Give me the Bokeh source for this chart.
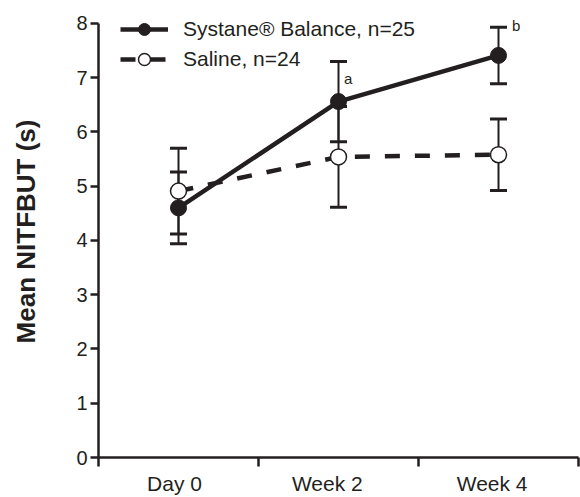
from bokeh.plotting import figure
from bokeh.models import (ColumnDataSource, Whisker, TeeHead, FixedTicker, Range1d,
                          Legend, LegendItem)
from bokeh.core.properties import value
from bokeh.embed import file_html
from bokeh.resources import INLINE
import numpy as np

# ---- data ----
categories = ["Day 0", "Week 2", "Week 4"]
systane_mean = [4.60, 6.56, 7.41]
systane_err = [0.66, 0.74, 0.52]
saline_mean = [4.91, 5.54, 5.58]
saline_err = [0.79, 0.93, 0.66]
systane_label = "Systane® Balance, n=25"
saline_label = "Saline, n=24"
annot_text = ["a", "b"]
annot_x = [1.56, 2.61]
annot_y = [6.99, 7.96]
y_ticks = [0, 1, 2, 3, 4, 5, 6, 7, 8]

INK = "#231f20"
FONT = "Liberation Sans"

x_pos = np.arange(len(categories)) + 0.5
label_pos = [0.475, 1.43, 2.46]

sys_src = ColumnDataSource(dict(
    x=x_pos, y=systane_mean,
    lo=np.array(systane_mean) - np.array(systane_err),
    hi=np.array(systane_mean) + np.array(systane_err)))
sal_src = ColumnDataSource(dict(
    x=x_pos, y=saline_mean,
    lo=np.array(saline_mean) - np.array(saline_err),
    hi=np.array(saline_mean) + np.array(saline_err)))

p = figure(width=580, height=497, output_backend="svg", toolbar_location=None,
           x_range=Range1d(0, 3), y_range=Range1d(0, 8.33),
           min_border_left=98, min_border_right=2, min_border_top=5,
           min_border_bottom=38)
p.outline_line_color = None
p.xgrid.visible = False
p.ygrid.visible = False
p.background_fill_color = "white"

for src in (sys_src, sal_src):
    w = Whisker(base="x", upper="hi", lower="lo", source=src,
                line_color=INK, line_width=2,
                upper_head=TeeHead(size=17, line_width=3, line_color=INK),
                lower_head=TeeHead(size=17, line_width=3, line_color=INK),
                level="underlay")
    p.add_layout(w)

sal_line = p.line("x", "y", source=sal_src, line_color=INK, line_width=4.5,
                  line_dash="15 15")
sys_line = p.line("x", "y", source=sys_src, line_color=INK, line_width=4.5)
sys_pts = p.scatter("x", "y", source=sys_src, size=16, fill_color=INK,
                    line_color=INK, line_width=1)
sal_pts = p.scatter("x", "y", source=sal_src, size=16, fill_color="white",
                    line_color=INK, line_width=1.5)

p.text(x=annot_x, y=annot_y, text=annot_text, text_align="center",
       text_baseline="middle", text_font_size="15px", text_color=INK,
       text_font=value(FONT))

# axes
for ax in (p.xaxis[0], p.yaxis[0]):
    ax.axis_line_color = INK
    ax.axis_line_width = 2.5
    ax.major_tick_line_color = INK
    ax.major_tick_line_width = 2.5
    ax.minor_tick_line_color = INK
    ax.minor_tick_line_width = 2.5
    ax.major_label_text_font = FONT
    ax.major_label_text_color = INK
    ax.major_tick_in = 0

yax = p.yaxis[0]
yax.ticker = FixedTicker(ticks=y_ticks)
yax.bounds = (0, 8)
yax.major_tick_out = 8
yax.minor_tick_out = 0
yax.major_label_text_font_size = "20px"
yax.major_label_standoff = 3
yax.axis_label = "Mean NITFBUT (s)"
yax.axis_label_text_font = FONT
yax.axis_label_text_font_style = "bold"
yax.axis_label_text_font_size = "26px"
yax.axis_label_text_color = INK
yax.axis_label_standoff = 32

xax = p.xaxis[0]
xax.ticker = FixedTicker(ticks=label_pos, minor_ticks=[0, 1, 2, 3])
xax.bounds = (0, 3)
xax.major_tick_out = 0
xax.minor_tick_out = 9
xax.minor_tick_in = 0
xax.major_label_overrides = {pos: lab for pos, lab in zip(label_pos, categories)}
xax.major_label_text_font_size = "21px"
xax.major_label_standoff = 5

legend = Legend(items=[
    LegendItem(label=systane_label, renderers=[sys_line, sys_pts]),
    LegendItem(label=saline_label, renderers=[sal_line, sal_pts]),
], location=(22, 383))
legend.padding = 0
legend.margin = 0
legend.border_line_color = None
legend.background_fill_alpha = 0
legend.glyph_width = 48
legend.glyph_height = 30
legend.label_height = 30
legend.spacing = 0
legend.label_standoff = 15
legend.label_text_font = FONT
legend.label_text_font_size = "21px"
legend.label_text_color = INK
p.add_layout(legend)

open("out.html", "w").write(file_html(p, INLINE))
